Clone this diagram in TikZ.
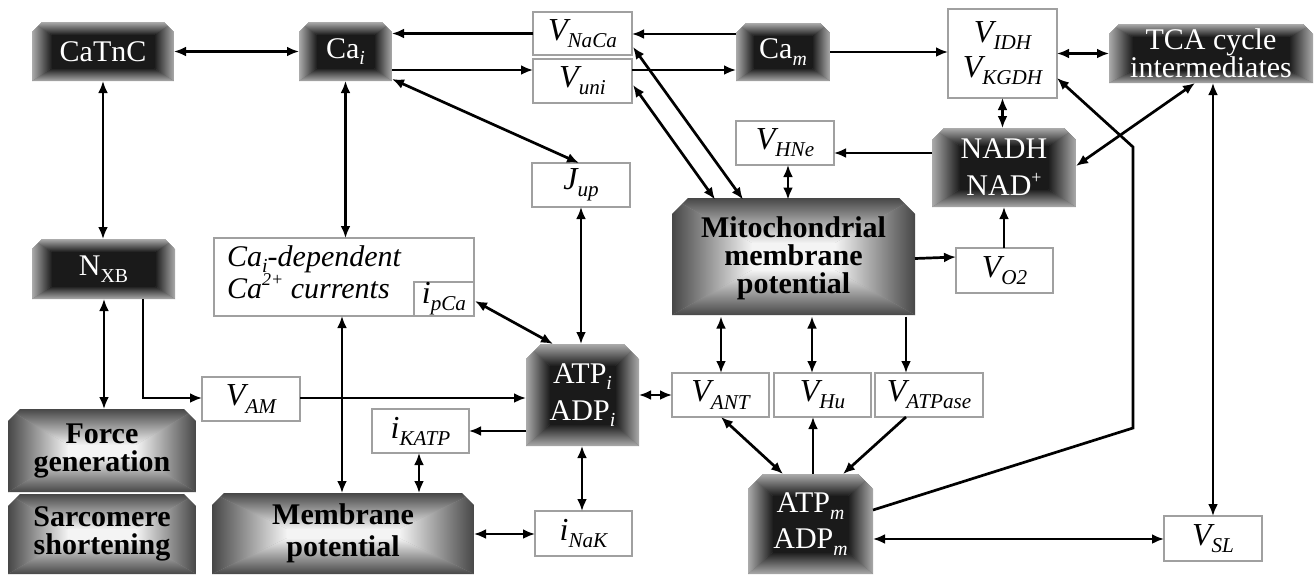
\documentclass[tikz,border=0pt]{standalone}
\usepackage{fontspec}
\setmainfont{Liberation Serif}
\usetikzlibrary{arrows.meta,calc}
\newcommand\lo[1]{\raisebox{-0.22em}{\scalebox{0.66}{#1}}}
\newcommand\hi[1]{\raisebox{0.42em}{\scalebox{0.6}{#1}}}
\definecolor{dkedge}{HTML}{ABABAB}
\definecolor{dkcen}{HTML}{1A1A1A}
\definecolor{ltedge}{HTML}{474747}
\definecolor{ltcen}{HTML}{F4F4F4}
\definecolor{wbline}{HTML}{A0A0A0}
% #1 x1, #2 y1, #3 x2, #4 y2, #5 chamfer, #6 inset x, #7 inset y, #8 edge colour, #9 centre colour
\newcommand\bevbox[9]{%
\begin{scope}
\clip (#1,#4) -- (#1,{#2+#5}) -- ({#1+#5},#2) -- ({#3-#5},#2) -- (#3,{#2+#5}) -- (#3,#4) -- cycle;
\fill[#8!50!#9] (#1,#2) rectangle (#3,#4);
\fill[#9] ({#1+#6},{#2+#7}) rectangle ({#3-#6},{#4-#7});
\begin{scope}\clip (#1,#2) -- (#3,#2) -- ({#3-#6},{#2+#7}) -- ({#1+#6},{#2+#7}) -- cycle;
\shade[top color=#8,bottom color=#9] (#1,#2) rectangle (#3,{#2+#7});\end{scope}
\begin{scope}\clip (#1,#4) -- (#3,#4) -- ({#3-#6},{#4-#7}) -- ({#1+#6},{#4-#7}) -- cycle;
\shade[top color=#9,bottom color=#8] (#1,{#4-#7}) rectangle (#3,#4);\end{scope}
\begin{scope}\clip (#1,#2) -- ({#1+#6},{#2+#7}) -- ({#1+#6},{#4-#7}) -- (#1,#4) -- cycle;
\shade[left color=#8,right color=#9] (#1,#2) rectangle ({#1+#6},#4);\end{scope}
\begin{scope}\clip (#3,#2) -- ({#3-#6},{#2+#7}) -- ({#3-#6},{#4-#7}) -- (#3,#4) -- cycle;
\shade[left color=#9,right color=#8] ({#3-#6},#2) rectangle (#3,#4);\end{scope}
\end{scope}}
\tikzset{
 dk/.style={inner sep=0pt, outer sep=0pt, text=white, align=center, font=\fontsize{30}{36}\selectfont},
 lt/.style={inner sep=0pt, outer sep=0pt, text=black, align=center, font=\fontsize{30}{28}\selectfont\bfseries},
 wb/.style={draw=wbline, line width=1.5pt, fill=white, inner sep=0pt, outer sep=0pt, align=center, font=\fontsize{32}{35}\selectfont\itshape},
 ln/.style={line width=2.7pt, black},
 arr/.style={ln, -{Latex[length=12pt,width=10pt]}},
 both/.style={ln, {Latex[length=12pt,width=10pt]}-{Latex[length=12pt,width=10pt]}},
}
\begin{document}
\begin{tikzpicture}[x=1pt,y=-1pt]
\useasboundingbox (0,0) rectangle (1315,574);
\fill[white] (0,0) rectangle (1315,574);

% ---- dark boxes
\bevbox{32}{22}{174}{81}{10}{20}{13}{dkedge}{dkcen}
\node[dk, minimum width=142pt, minimum height=59pt] (CaTnC) at (103,51.5) {CaTnC};
\bevbox{299}{22}{392}{81}{10}{18}{13}{dkedge}{dkcen}
\node[dk, minimum width=93pt, minimum height=59pt] (Cai) at (345.5,51.5) {Ca\lo{\itshape i}};
\bevbox{736}{23}{830}{81}{10}{18}{13}{dkedge}{dkcen}
\node[dk, minimum width=94pt, minimum height=58pt] (Cam) at (783,52) {Ca\lo{\itshape m}};
\bevbox{1109}{24}{1313}{83}{10}{24}{13}{dkedge}{dkcen}
\node[dk, font=\fontsize{30}{27}\selectfont, minimum width=204pt, minimum height=59pt] (TCA) at (1211,53.5) {TCA cycle\\intermediates};
\bevbox{932}{128}{1076}{207}{12}{28}{18}{dkedge}{dkcen}
\node[dk, font=\fontsize{30}{37}\selectfont, minimum width=144pt, minimum height=79pt] (NADH) at (1004,167.5) {NADH\\NAD\hi{+}};
\bevbox{32}{239}{175}{299}{10}{20}{13}{dkedge}{dkcen}
\node[dk, minimum width=143pt, minimum height=60pt] (NXB) at (103.5,269) {N\lo{XB}};
\bevbox{526}{344}{639}{446}{15}{24}{22}{dkedge}{dkcen}
\node[dk, font=\fontsize{30}{37}\selectfont, minimum width=113pt, minimum height=102pt] (ATPi) at (582.5,395) {ATP\lo{\itshape i}\\ADP\lo{\itshape i}};
\bevbox{748}{474}{873}{574}{15}{25}{22}{dkedge}{dkcen}
\node[dk, font=\fontsize{30}{36}\selectfont, minimum width=125pt, minimum height=100pt] (ATPm) at (810.5,524) {ATP\lo{\itshape m}\\ADP\lo{\itshape m}};

% ---- light boxes
\bevbox{672}{198}{915}{315}{16}{80}{45}{ltedge}{ltcen}
\node[lt, minimum width=243pt, minimum height=117pt] (Mito) at (793.5,258) {Mitochondrial\\membrane\\potential};
\bevbox{8}{409}{196}{492}{12}{60}{36}{ltedge}{ltcen}
\node[lt, minimum width=188pt, minimum height=83pt] (Force) at (102,450.5) {Force\\generation};
\bevbox{8}{494}{196}{574}{12}{60}{35}{ltedge}{ltcen}
\node[lt, minimum width=188pt, minimum height=80pt] (Sarc) at (102,534) {Sarcomere\\shortening};
\bevbox{212}{493}{474}{574}{12}{75}{36}{ltedge}{ltcen}
\node[lt, font=\fontsize{30}{32}\selectfont\bfseries, minimum width=262pt, minimum height=81pt] (MemPot) at (343,533.5) {Membrane\\potential};

% ---- white boxes
\node[wb, minimum width=99pt, minimum height=43pt] (VNaCa) at (582.5,33.5) {V\lo{NaCa}};
\node[wb, minimum width=99pt, minimum height=44pt] (Vuni) at (582.5,81) {V\lo{uni}};
\node[wb, font=\fontsize{32}{35}\selectfont\itshape, minimum width=109pt, minimum height=89pt] (VIDH) at (1002.5,53.5) {V\lo{IDH}\\V\lo{KGDH}};
\node[wb, minimum width=98pt, minimum height=44pt] (VHNe) at (785,143) {V\lo{HNe}};
\node[wb, minimum width=98pt, minimum height=44pt] (Jup) at (581,185) {J\lo{up}};
\node[wb, minimum width=260pt, minimum height=78pt] (CaDep) at (344,277) {};
\node[inner sep=0pt, anchor=west, align=left, font=\fontsize{30}{30}\selectfont\itshape] (CaDepT) at (227,272) {Ca\lo{i}-dependent\\Ca\hi{2+} currents};
\node[wb, minimum width=60pt, minimum height=34pt] (ipCa) at (444,299) {i\lo{pCa}};
\node[wb, minimum width=97pt, minimum height=45pt] (VO2) at (1004.5,270.5) {V\lo{O2}};
\node[wb, minimum width=98pt, minimum height=44pt] (VAM) at (251,399) {V\lo{AM}};
\node[wb, minimum width=97pt, minimum height=44pt] (iKATP) at (420.5,431) {i\lo{KATP}};
\node[wb, minimum width=97pt, minimum height=45pt] (iNaK) at (583.5,533.5) {i\lo{NaK}};
\node[wb, minimum width=97pt, minimum height=44pt] (VANT) at (720.5,395) {V\lo{ANT}};
\node[wb, minimum width=97pt, minimum height=44pt] (VHu) at (822.5,395) {V\lo{Hu}};
\node[wb, minimum width=108pt, minimum height=44pt] (VATPase) at (929,395) {V\lo{ATPase}};
\node[wb, minimum width=98pt, minimum height=45pt] (VSL) at (1213,538.5) {V\lo{SL}};

\coordinate (k1) at (1133,428);
\coordinate (k2) at (1133,147);

% ---- connectors
\draw[both] (CaTnC.east) -- (Cai.west);
\draw[both] (CaTnC.south) -- (CaTnC.south |- NXB.north);
\draw[arr] (VNaCa.west) -- (VNaCa.west -| Cai.east);
\draw[arr] ($(Cai.north east)+(0,48)$) -- ($(Vuni.north west)+(0,11)$);
\draw[arr] ($(Cam.north west)+(0,11)$) -- ($(VNaCa.north east)+(0,22)$);
\draw[arr] ($(Vuni.north east)+(0,11)$) -- ($(Cam.north west)+(0,47)$);
\draw[both] ($(Cai.north east)+(0,57)$) -- ($(Jup.north west)+(47,0)$);
\draw[both] (Cai.south) -- (Cai.south |- CaDep.north);
\draw[both] ($(VNaCa.north east)+(1,35)$) -- ($(Mito.north west)+(71,0)$);
\draw[both] ($(Vuni.north east)+(1,26)$) -- ($(Mito.north west)+(43,0)$);
\draw[arr] (Cam.east) -- (Cam.east -| VIDH.west);
\draw[both] (VIDH.east) -- (VIDH.east -| TCA.west);
\draw[both] (VIDH.south) -- (VIDH.south |- NADH.north);
\draw[arr] ($(NADH.north west)+(0,25)$) -- ($(VHNe.north east)+(0,32)$);
\draw[both] ($(VHNe.south west)+(52,0)$) -- ($(Mito.north west)+(116,0)$);
\draw[both] ($(TCA.south west)+(86,0)$) -- ($(NADH.north east)+(0,38)$);
\draw[arr] ($(ATPm.north east)+(0,36)$) -- (k1) -- (k2) -- ($(VIDH.south east)+(0,-20)$);
\draw[both] ($(TCA.south west)+(104,0)$) -- ($(VSL.north west)+(49,0)$);
\draw[both] ($(ATPm.north east)+(0,65)$) -- ($(VSL.north west)+(0,23)$);
\draw[arr] ($(Mito.north east)+(0,59)$) -- ($(VO2.north west)+(0,9)$);
\draw[arr] ($(VO2.north west)+(48,0)$) -- ($(NADH.south west)+(72,0)$);
\draw[arr] ($(Mito.south west)+(234,0)$) -- ($(VATPase.north west)+(31,0)$);
\draw[both] ($(Mito.south west)+(49,0)$) -- ($(VANT.north west)+(49,0)$);
\draw[both] ($(Mito.south west)+(140,0)$) -- ($(VHu.north west)+(38,0)$);
\draw[both] ($(VANT.south west)+(49,0)$) -- ($(ATPm.north west)+(35,0)$);
\draw[arr] ($(ATPm.north west)+(65,0)$) -- ($(VHu.south west)+(39,0)$);
\draw[arr] ($(VATPase.south west)+(31,0)$) -- ($(ATPm.north west)+(95,0)$);
\draw[both] (ATPi.east) -- (ATPi.east -| VANT.west);
\draw[both] (Jup.south) -- (Jup.south |- ATPi.north);
\draw[both] ($(ipCa.north east)+(1,19)$) -- ($(ATPi.north west)+(27,0)$);
\draw[arr] ($(VAM.north east)+(0,21)$) -- ($(ATPi.north west)+(0,54)$);
\draw[arr] ($(NXB.south west)+(111,0)$) |- ($(VAM.north west)+(0,21)$);
\draw[both] ($(NXB.south west)+(72,0)$) -- ($(Force.north west)+(96,0)$);
\draw[both] ($(CaDep.south west)+(128,0)$) -- ($(MemPot.north west)+(130,0)$);
\draw[arr] ($(ATPi.north west)+(0,87)$) -- ($(iKATP.north east)+(0,22)$);
\draw[both] ($(iKATP.south west)+(47,0)$) -- ($(MemPot.north west)+(207,0)$);
\draw[both] ($(ATPi.south west)+(56,0)$) -- ($(iNaK.north west)+(47,0)$);
\draw[both] ($(MemPot.north east)+(0,41)$) -- ($(iNaK.north west)+(0,23)$);
\end{tikzpicture}
\end{document}
